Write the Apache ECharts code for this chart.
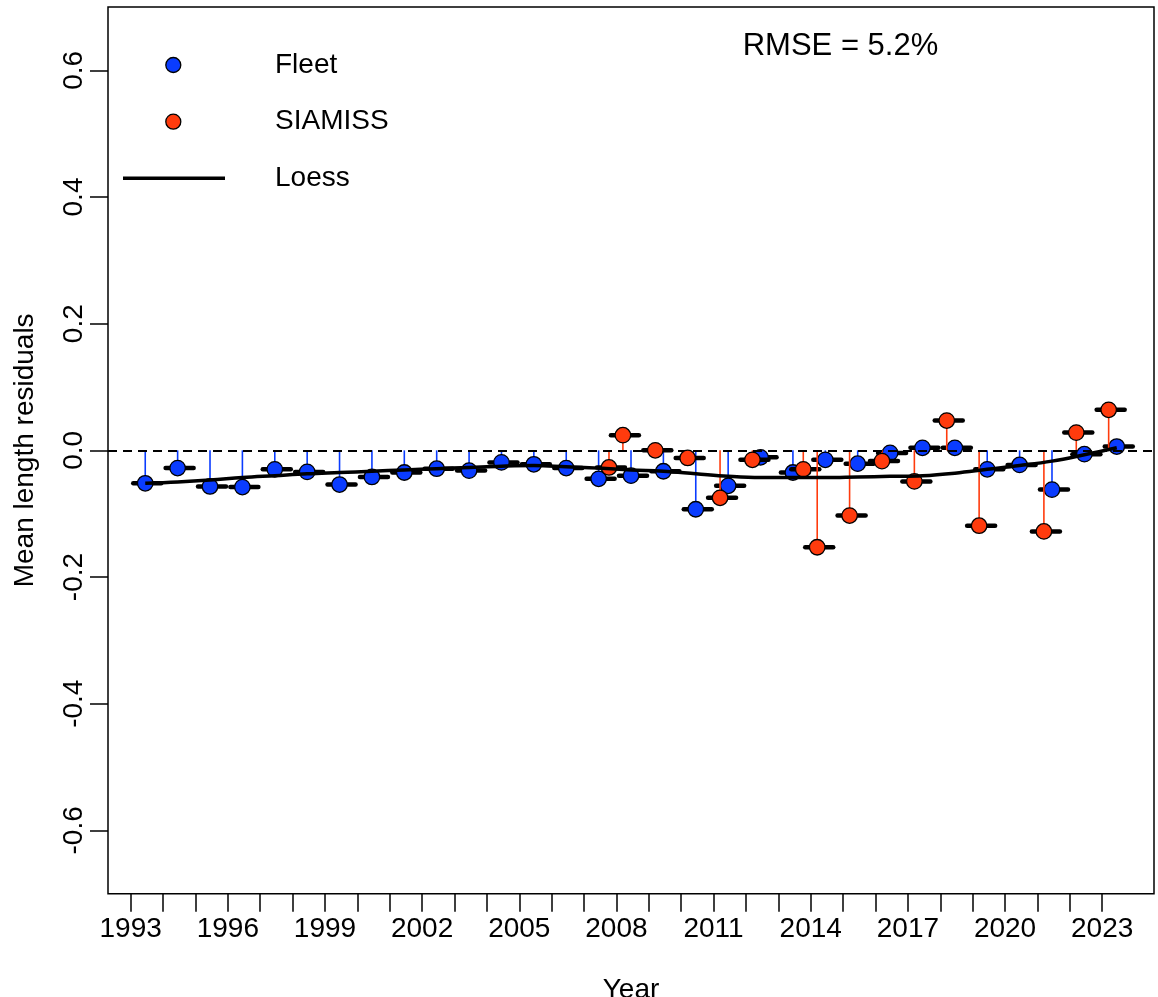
<!DOCTYPE html>
<html>
<head>
<meta charset="utf-8">
<script src="https://cdn.jsdelivr.net/npm/echarts@6/dist/echarts.min.js"></script>
<style>
html,body{margin:0;padding:0;background:#fff;}
#chart{width:1158px;height:997px;}
</style>
</head>
<body>
<div id="chart"></div>
<script>
// ---- data ----
const years = [1993,1994,1995,1996,1997,1998,1999,2000,2001,2002,2003,2004,2005,2006,2007,2008,2009,2010,2011,2012,2013,2014,2015,2016,2017,2018,2019,2020,2021,2022,2023];
const fleetSeason = 0.45; // time of year of the fleet samples
const fleetResid = [-0.052,-0.028,-0.057,-0.058,-0.030,-0.034,-0.054,-0.042,-0.035,-0.029,-0.032,-0.019,-0.022,-0.028,-0.045,-0.040,-0.033,-0.093,-0.056,-0.011,-0.035,-0.015,-0.021,-0.004,0.004,0.004,-0.030,-0.023,-0.062,-0.006,0.006];
const siamissTime = [2007.77,2008.2,2009.2,2010.2,2011.2,2012.2,2013.77,2014.2,2015.2,2016.2,2017.2,2018.2,2019.2,2021.2,2022.2,2023.2];
const siamissResid = [-0.027,0.024,0.000,-0.012,-0.075,-0.015,-0.030,-0.153,-0.103,-0.017,-0.049,0.047,-0.119,-0.128,0.028,0.064];
const loessResid = [-0.052,-0.050,-0.047,-0.043,-0.040,-0.037,-0.035,-0.033,-0.031,-0.029,-0.027,-0.025,-0.024,-0.026,-0.028,-0.031,-0.033,-0.037,-0.041,-0.043,-0.043,-0.043,-0.042,-0.041,-0.040,-0.036,-0.030,-0.024,-0.017,-0.007,0.004];
const xTickValues = years;
const xLabelValues = [1993,1996,1999,2002,2005,2008,2011,2014,2017,2020,2023];
const yTickValues = [-0.6,-0.4,-0.2,0,0.2,0.4,0.6];
const seriesNames = ['Fleet','SIAMISS','Loess'];
const rmseText = 'RMSE = 5.2%';

// ---- build ----
const BLUE = '#0a3cff';
const ORANGE = '#ff3b0d';
const FONT = 'Liberation Sans, Arial, Helvetica, sans-serif';

const fleetData = years.map((y,i)=>[y+fleetSeason, fleetResid[i]]);
const siamissData = siamissTime.map((t,i)=>[t, siamissResid[i]]);
const loessData = years.map((y,i)=>[y+fleetSeason, loessResid[i]]);

function stemRender(color){
  return function(params, api){
    const x = api.value(0), y = api.value(1);
    const base = api.coord([x,0]);
    const pt = api.coord([x,y]);
    return {type:'group', children:[
      {type:'line', shape:{x1:base[0],y1:base[1],x2:pt[0],y2:pt[1]}, style:{stroke:color,lineWidth:1.6}},
      {type:'line', shape:{x1:pt[0]-12,y1:pt[1],x2:pt[0]+16,y2:pt[1]}, style:{stroke:'#000',lineWidth:4.5,lineCap:'round'}}
    ]};
  };
}

const chart = echarts.init(document.getElementById('chart'), null, {renderer:'canvas'});
chart.setOption({
  animation:false,
  backgroundColor:'#fff',
  textStyle:{fontFamily:FONT},
  grid:{left:108, right:4, top:7, bottom:103.3, containLabel:false, outerBoundsMode:'none',
        show:true, borderColor:'#000', borderWidth:1.5, backgroundColor:'transparent'},
  xAxis:{
    type:'value', min:1992.3, max:2024.6,
    name:'Year', nameLocation:'middle', nameGap:83,
    nameTextStyle:{fontSize:28, color:'#000', fontFamily:FONT},
    axisLine:{show:false, onZero:false},
    splitLine:{show:false},
    axisTick:{show:true, length:18, inside:false, lineStyle:{color:'#000', width:1.5}, customValues:xTickValues},
    axisLabel:{show:true, fontSize:28, color:'#000', margin:22, fontFamily:FONT, customValues:xLabelValues, formatter:v=>String(Math.round(v))}
  },
  yAxis:{
    type:'value', min:-0.7, max:0.7,
    name:'Mean length residuals', nameLocation:'middle', nameGap:69,
    nameTextStyle:{fontSize:28, color:'#000', fontFamily:FONT},
    axisLine:{show:false, onZero:false},
    splitLine:{show:false},
    axisTick:{show:true, length:18, lineStyle:{color:'#000', width:1.5}, customValues:yTickValues},
    axisLabel:{show:true, fontSize:28, color:'#000', rotate:90, margin:20, fontFamily:FONT, customValues:yTickValues, formatter:v=>v.toFixed(1)}
  },
  series:[
    {type:'custom', name:'FleetStems', data:fleetData, renderItem:stemRender(BLUE), z:2, silent:true},
    {type:'scatter', name:seriesNames[0], data:fleetData, symbol:'circle', symbolSize:15.5, z:3,
     itemStyle:{color:BLUE, borderColor:'#000', borderWidth:1.3, opacity:1}},
    {type:'custom', name:'SiamissStems', data:siamissData, renderItem:stemRender(ORANGE), z:4, silent:true},
    {type:'scatter', name:seriesNames[1], data:siamissData, symbol:'circle', symbolSize:15.5, z:5,
     itemStyle:{color:ORANGE, borderColor:'#000', borderWidth:1.3, opacity:1}},
    {type:'line', name:seriesNames[2], data:loessData, smooth:0.4, showSymbol:false, z:6,
     lineStyle:{color:'#000', width:3.5},
     markLine:{silent:true, symbol:'none', label:{show:false}, animation:false,
       lineStyle:{color:'#000', width:1.8, type:[9,6]}, data:[{yAxis:0}]}}
  ],
  graphic:[
    {type:'circle', shape:{cx:173.3, cy:65, r:7.5}, style:{fill:BLUE, stroke:'#000', lineWidth:1.3}},
    {type:'circle', shape:{cx:173.3, cy:121.7, r:7.5}, style:{fill:ORANGE, stroke:'#000', lineWidth:1.3}},
    {type:'line', shape:{x1:123, y1:178.3, x2:225, y2:178.3}, style:{stroke:'#000', lineWidth:3.5}},
    {type:'text', x:275, y:65, style:{text:seriesNames[0], font:'28px '+FONT, fill:'#000', textVerticalAlign:'middle', verticalAlign:'middle'}},
    {type:'text', x:275, y:121.7, style:{text:seriesNames[1], font:'28px '+FONT, fill:'#000', textVerticalAlign:'middle', verticalAlign:'middle'}},
    {type:'text', x:275, y:178.3, style:{text:seriesNames[2], font:'28px '+FONT, fill:'#000', textVerticalAlign:'middle', verticalAlign:'middle'}},
    {type:'text', x:742.7, y:46, style:{text:rmseText, font:'31px '+FONT, fill:'#000', textVerticalAlign:'middle', verticalAlign:'middle'}}
  ]
});
</script>
</body>
</html>
